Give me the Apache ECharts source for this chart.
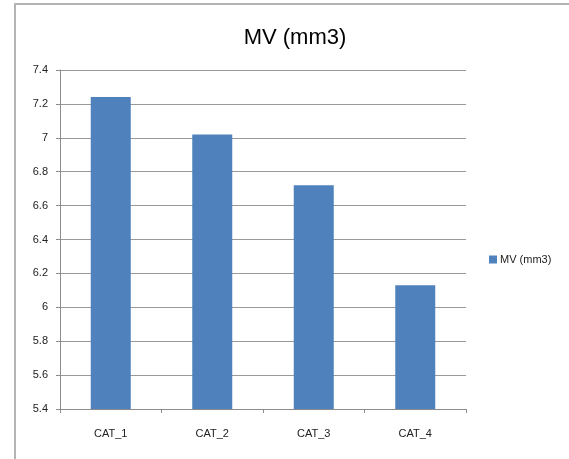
<!DOCTYPE html>
<html>
<head>
<meta charset="utf-8">
<script src="https://cdn.jsdelivr.net/npm/echarts@6/dist/echarts.min.js"></script>
<style>
  html, body { margin: 0; padding: 0; background: #fff; }
  #chart { width: 569px; height: 459px; }
</style>
</head>
<body>
<div id="chart"></div>
<script>
// Chart data
const categories = ['CAT_1', 'CAT_2', 'CAT_3', 'CAT_4'];
const mvValues = [7.24, 7.02, 6.72, 6.13];
const seriesName = 'MV (mm3)';
const yTicks = { min: 5.4, max: 7.4, step: 0.2 };

const chart = echarts.init(document.getElementById('chart'), null, { renderer: 'canvas' });
const font = '"Liberation Sans", Arial, sans-serif';

chart.setOption({
  animation: false,
  backgroundColor: '#ffffff',
  graphic: [{
    type: 'rect',
    shape: { x: 15, y: 4, width: 600, height: 500 },
    style: { fill: 'none', stroke: '#b4b4b4', lineWidth: 2 },
    silent: true
  }],
  title: {
    text: seriesName,
    left: 290,
    top: 22,
    textAlign: 'center',
    textStyle: { fontFamily: font, fontSize: 22, fontWeight: 'normal', color: '#000' }
  },
  legend: {
    data: [seriesName],
    left: 484,
    top: 249,
    itemWidth: 8,
    itemHeight: 8,
    itemGap: 4,
    icon: 'rect',
    textStyle: { fontFamily: font, fontSize: 11, color: '#222', padding: [0, 0, 0, -2] }
  },
  grid: { left: 60, right: 103, top: 70, bottom: 50 },
  xAxis: {
    type: 'category',
    data: categories,
    axisLine: { lineStyle: { color: '#8c8c8c', width: 1 } },
    axisTick: { show: true, length: 4, alignWithLabel: false, lineStyle: { color: '#8c8c8c' } },
    axisLabel: { fontFamily: font, fontSize: 11, color: '#222', margin: 19 }
  },
  yAxis: {
    type: 'value',
    min: yTicks.min,
    max: yTicks.max,
    interval: yTicks.step,
    axisLine: { show: true, lineStyle: { color: '#8c8c8c', width: 1 } },
    axisTick: { show: true, length: 4, lineStyle: { color: '#8c8c8c' } },
    axisLabel: {
      fontFamily: font, fontSize: 11, color: '#222', margin: 12,
      formatter: v => String(Math.round(v * 10) / 10)
    },
    splitLine: { lineStyle: { color: '#999999', width: 1 } }
  },
  series: [{
    name: seriesName,
    type: 'bar',
    data: mvValues,
    barWidth: 40,
    itemStyle: { color: '#4f81bd' }
  }]
});
</script>
</body>
</html>
